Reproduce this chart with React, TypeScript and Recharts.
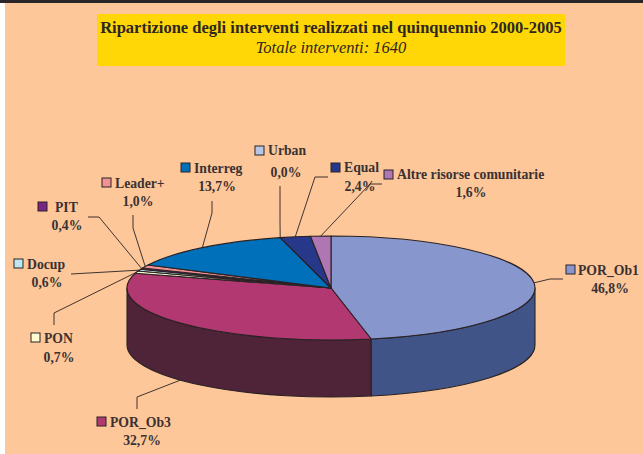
import React from "react";
import { PieChart, Pie } from "recharts";

const names = ["POR_Ob1", "POR_Ob3", "PON", "Docup", "PIT", "Leader+", "Interreg", "Urban", "Equal", "Altre risorse comunitarie"];
const shares = [46.8, 32.7, 0.7, 0.6, 0.4, 1.0, 13.7, 0.0, 2.4, 1.6];
const topColors = ["#8796CC", "#B13870", "#FDFBCF", "#BFE6EC", "#7A2582", "#F29191", "#0070BA", "#B8C6E6", "#27388A", "#AE76B3"];
const wallColors = ["#405488", "#4F2338", "#CFCDA8", "#9CBCC1", "#5A1C60", "#C67777", "#005C98", "#97A2BC", "#1D2A68", "#8E6092"];

const data = names.map((name, i) => ({ name, value: shares[i], fill: topColors[i], wall: wallColors[i] }));

// Chart geometry
const W = 643, H = 454;
const CX = 331, CY = 288, RX = 204, RY = 52, DEPTH = 57;
const INK = "#2A2225";
const TEXT = "#3A3133";
const FONT = "'Liberation Serif', serif";

// Label layout: swatch corner, name x, name baseline, centred value x, value baseline, leader elbows (outer end first)
type Lay = { sx: number; sy: number; tx: number; by: number; vx: number; vy: number; elbows: number[][]; onWall?: boolean };
const layouts: Lay[] = [
  { sx: 566, sy: 265, tx: 578, by: 275, vx: 610, vy: 293, elbows: [[563, 279], [550, 279]] },
  { sx: 97, sy: 417, tx: 110, by: 427, vx: 142, vy: 445, elbows: [[137, 409], [137, 397]], onWall: true },
  { sx: 31, sy: 333, tx: 44, by: 343, vx: 59, vy: 362, elbows: [[54, 325], [54, 313]] },
  { sx: 14, sy: 259, tx: 27, by: 269, vx: 47, vy: 287, elbows: [[71, 274]] },
  { sx: 38, sy: 202, tx: 55, by: 212, vx: 67, vy: 230, elbows: [[88, 217], [99, 217]] },
  { sx: 102, sy: 178, tx: 115, by: 188, vx: 138, vy: 206, elbows: [[133, 215], [133, 228]] },
  { sx: 181, sy: 163, tx: 194, by: 173, vx: 217, vy: 191, elbows: [[212, 201], [212, 213]] },
  { sx: 255, sy: 146, tx: 268, by: 155, vx: 286, vy: 177, elbows: [[280, 186], [280, 222]] },
  { sx: 331, sy: 163, tx: 344, by: 172, vx: 360, vy: 191, elbows: [[328, 177], [315, 177]] },
  { sx: 384, sy: 170, tx: 397, by: 179, vx: 471, vy: 197, elbows: [[382, 184], [370, 184]] },
];

const px = (deg: number) => CX + RX * Math.cos((deg * Math.PI) / 180);
const py = (deg: number) => CY - RY * Math.sin((deg * Math.PI) / 180);

// Top face: the library's sector angles drawn on the flattened ellipse.
const TopSlice = (p: any) => {
  const { startAngle: a, endAngle: b, fill } = p;
  const large = Math.abs(a - b) > 180 ? 1 : 0;
  const d = `M${CX},${CY} L${px(a)},${py(a)} A${RX},${RY} 0 ${large} 1 ${px(b)},${py(b)} Z`;
  return <path d={d} fill={fill} stroke={INK} strokeWidth={1.1} strokeLinejoin="round" />;
};

// Side wall: only the part of the sector that faces the viewer (0 to -180 degrees).
const WallSlice = (p: any) => {
  const a = Math.min(p.startAngle, 0);
  const b = Math.max(p.endAngle, -180);
  if (a <= b) return <g />;
  const d =
    `M${px(a)},${py(a)} A${RX},${RY} 0 0 1 ${px(b)},${py(b)} ` +
    `L${px(b)},${py(b) + DEPTH} A${RX},${RY} 0 0 0 ${px(a)},${py(a) + DEPTH} Z`;
  return <path d={d} fill={p.payload.wall} stroke={INK} strokeWidth={1.1} strokeLinejoin="round" />;
};

const fmt = (v: number) => v.toFixed(1).replace(".", ",") + "%";

const SliceLabel = (p: any) => {
  const i = p.index;
  const lay = layouts[i];
  const row = data[i];
  const startX = px(p.midAngle);
  const startY = py(p.midAngle) + (lay.onWall ? DEPTH : 0);
  const pts = [...lay.elbows, [startX, startY]].map((q) => q.join(",")).join(" ");
  return (
    <g fontFamily={FONT} fontWeight={700} fontSize={13.7} fill={TEXT}>
      <polyline points={pts} fill="none" stroke={INK} strokeWidth={0.9} />
      <rect x={lay.sx} y={lay.sy} width={9} height={9} fill={row.fill} stroke={INK} strokeWidth={1} />
      <text x={lay.tx} y={lay.by}>{row.name}</text>
      <text x={lay.vx} y={lay.vy} textAnchor="middle">{fmt(row.value)}</text>
    </g>
  );
};

const common = {
  data,
  dataKey: "value",
  nameKey: "name",
  cx: CX,
  cy: CY,
  innerRadius: 0,
  outerRadius: RX,
  startAngle: 90,
  endAngle: -270,
  isAnimationActive: false,
  labelLine: false,
} as const;

export default function App() {
  return (
    <div style={{ position: "absolute", left: 0, top: 0, width: W, height: H, background: "#fff", overflow: "hidden" }}>
      <div style={{ position: "absolute", left: 5, top: 0, width: W - 5, height: H, background: "#FDC799" }} />
      <div style={{ position: "absolute", left: 0, top: 0, width: W, height: 3, background: "#2A2528" }} />
      <div
        style={{
          position: "absolute", left: 97, top: 14, width: 468, height: 52, background: "#FFD706",
          textAlign: "center", fontFamily: FONT, color: "#2E2622",
        }}
      >
        <div style={{ fontWeight: 700, fontSize: 16.5, lineHeight: "20px", marginTop: 4, whiteSpace: "nowrap" }}>Ripartizione degli interventi realizzati nel quinquennio 2000-2005</div>
        <div style={{ fontStyle: "italic", fontSize: 16.5, lineHeight: "20px" }}>Totale interventi: 1640</div>
      </div>
      <div style={{ position: "absolute", left: 0, top: 0 }}>
        <PieChart width={W} height={H} margin={{ top: 0, right: 0, bottom: 0, left: 0 }}>
          <Pie {...common} shape={WallSlice} label={false} />
          <Pie {...common} shape={TopSlice} label={SliceLabel} />
        </PieChart>
      </div>
    </div>
  );
}
